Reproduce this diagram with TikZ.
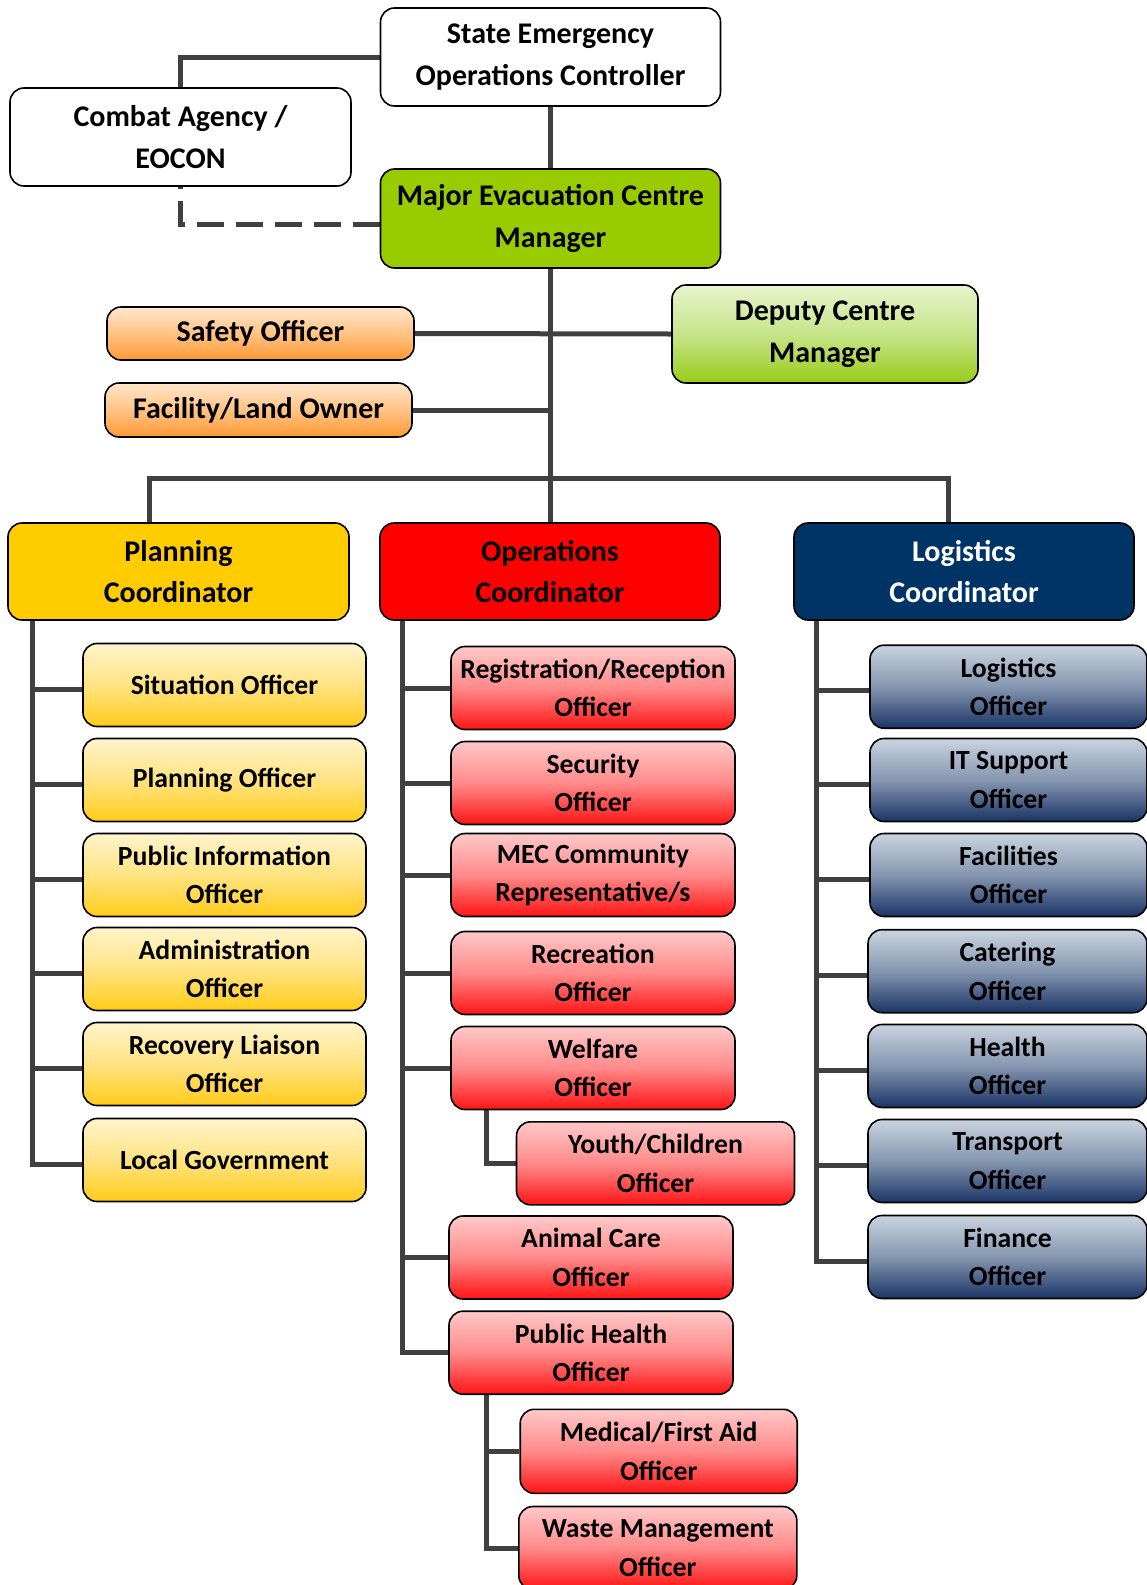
\documentclass[tikz,border=0pt]{standalone}
\usepackage{fontspec}
\setmainfont{Carlito}
\usetikzlibrary{backgrounds}
\definecolor{linegray}{HTML}{404040}
\definecolor{mecgreen}{HTML}{99CC00}
\definecolor{planyellow}{HTML}{FFCC00}
\definecolor{opsred}{HTML}{FF0000}
\definecolor{lognavy}{HTML}{003366}
\definecolor{ytop}{HTML}{FFF4CC}\definecolor{ymid}{HTML}{FFE382}\definecolor{ybot}{HTML}{FFCC1A}
\definecolor{rtop}{HTML}{FFC8C8}\definecolor{rmid}{HTML}{FF8A8A}\definecolor{rbot}{HTML}{FF1414}
\definecolor{btop}{HTML}{CAD4DF}\definecolor{bmid}{HTML}{8596B0}\definecolor{bbot}{HTML}{1A3466}
\definecolor{otop}{HTML}{FFE6CC}\definecolor{omid}{HTML}{FFC385}\definecolor{obot}{HTML}{FF9933}
\definecolor{gtop}{HTML}{E8F5CC}\definecolor{gmid}{HTML}{C6E48A}\definecolor{gbot}{HTML}{99CC1A}
\begin{document}
\begin{tikzpicture}[x=1pt,y=-1pt,
  box/.style={draw=black, line width=1.6pt, rounded corners=14pt, align=center, inner sep=0pt, text=black},
  big/.style={box, font=\bfseries\fontsize{30}{41.5}\selectfont},
  off/.style={box, font=\bfseries\fontsize{27.7}{38.4}\selectfont, minimum height=83pt},
  yel/.style={top color=ytop, bottom color=ybot, middle color=ymid},
  redg/.style={top color=rtop, bottom color=rbot, middle color=rmid},
  blu/.style={top color=btop, bottom color=bbot, middle color=bmid},
  ora/.style={top color=otop, bottom color=obot, middle color=omid},
  grn/.style={top color=gtop, bottom color=gbot, middle color=gmid},
  link/.style={draw=linegray, line width=5pt},
  dlink/.style={link, dash pattern=on 27pt off 12pt}
]
\useasboundingbox (0,0) rectangle (1147,1585);
\clip (0,0) rectangle (1147,1585);

% top level
\node[big, fill=white, minimum width=340pt, minimum height=98pt] (sec) at (550.5,57) {State Emergency\\Operations Controller};
\node[big, fill=white, minimum width=341pt, minimum height=98pt] (combat) at (180.5,137) {Combat Agency /\\EOCON};
\node[big, fill=mecgreen, minimum width=340pt, minimum height=99pt] (mec) at (550.5,218.5) {Major Evacuation Centre\\Manager};
\node[big, ora, minimum width=307pt, minimum height=53pt] (safety) at (260.5,333.5) {Safety Officer};
\node[big, grn, minimum width=306pt, minimum height=98pt] (deputy) at (825,334) {Deputy Centre\\Manager};
\node[big, ora, minimum width=307pt, minimum height=54pt] (facility) at (258.5,410) {Facility/Land Owner};
\node[big, fill=planyellow, minimum width=341pt, minimum height=97pt] (plan) at (178.5,571.5) {Planning\\Coordinator};
\node[big, fill=opsred, minimum width=340pt, minimum height=97pt] (ops) at (550,571.5) {Operations\\Coordinator};
\node[big, fill=lognavy, text=white, minimum width=340pt, minimum height=97pt] (logc) at (964,571.5) {Logistics\\Coordinator};

% planning officers
\node[off, yel, minimum width=283pt] (sit) at (224.5,685) {Situation Officer};
\node[off, yel, minimum width=283pt] (pof) at (224.5,780) {Planning Officer};
\node[off, yel, minimum width=283pt] (pio) at (224.5,875) {Public Information\\Officer};
\node[off, yel, minimum width=283pt] (adm) at (224.5,969) {Administration\\Officer};
\node[off, yel, minimum width=283pt] (rec) at (224.5,1064) {Recovery Liaison\\Officer};
\node[off, yel, minimum width=283pt] (lgov) at (224.5,1160) {Local Government};

% operations officers
\node[off, redg, minimum width=284pt] (reg) at (593,688) {Registration/Reception\\Officer};
\node[off, redg, minimum width=284pt] (secu) at (593,783) {Security\\Officer};
\node[off, redg, minimum width=284pt] (mecc) at (593,875) {MEC Community\\Representative/s};
\node[off, redg, minimum width=284pt] (recr) at (593,973) {Recreation\\Officer};
\node[off, redg, minimum width=284pt] (welf) at (593,1068) {Welfare\\Officer};
\node[off, redg, minimum width=278pt] (youth) at (655.5,1163.3) {Youth/Children\\Officer};
\node[off, redg, minimum width=284pt] (animal) at (591,1257.5) {Animal Care\\Officer};
\node[off, redg, minimum width=284pt] (phealth) at (591,1352.7) {Public Health\\Officer};
\node[off, redg, minimum width=277pt, minimum height=84pt] (medical) at (658.7,1451.3) {Medical/First Aid\\Officer};
\node[off, redg, minimum width=278pt] (waste) at (657.8,1548) {Waste Management\\Officer};

% logistics officers
\node[off, blu, minimum width=277pt] (lo) at (1008.5,686.7) {Logistics\\Officer};
\node[off, blu, minimum width=277pt] (it) at (1008.5,780) {IT Support\\Officer};
\node[off, blu, minimum width=277pt] (fac) at (1008.5,875) {Facilities\\Officer};
\node[off, blu, minimum width=279pt] (cat) at (1007.5,971.2) {Catering\\Officer};
\node[off, blu, minimum width=279pt] (hea) at (1007.5,1066) {Health\\Officer};
\node[off, blu, minimum width=279pt] (tra) at (1007.5,1161) {Transport\\Officer};
\node[off, blu, minimum width=279pt] (fin) at (1007.5,1257) {Finance\\Officer};

% trunk coordinates
\coordinate (pt) at (32,0);
\coordinate (ot) at (402.7,0);
\coordinate (lt) at (816,0);
\coordinate (ws) at (486.5,0);
\coordinate (busL) at (149,478);
\coordinate (busR) at (948,478);
\foreach \n in {sit,pof,pio,adm,rec,lgov,lo,it,fac,cat,hea,tra,fin}
  \coordinate (\n-b) at ([yshift=-4pt]\n.west);
\coordinate (mec-d) at ([yshift=-5.5pt]mec.west);

\begin{pgfonlayer}{background}
% top connectors
\draw[link] (sec.west) -| (combat.north);
\draw[dlink] (mec-d) -| (combat.south);
\draw[link] (sec.south) -- (sec.south |- ops.north);
\draw[link] (safety.east) -- (deputy.west);
\draw[link] (facility.east) -- (facility.east -| sec.south);
\draw[link] (busL |- plan.north) -- (busL) -- (busR) -- (busR |- logc.north);
% planning
\draw[link] (plan.south -| pt) |- (lgov-b);
\foreach \n in {sit,pof,pio,adm,rec}
  \draw[link] (pt |- \n-b) -- (\n-b);
% operations
\draw[link] (ops.south -| ot) |- (phealth.west);
\foreach \n in {reg,secu,mecc,recr,welf,animal}
  \draw[link] (ot |- \n.west) -- (\n.west);
\draw[link] (welf.south -| ws) |- (youth.west);
\draw[link] (phealth.south -| ws) |- (waste.west);
\draw[link] (ws |- medical.west) -- (medical.west);
% logistics
\draw[link] (logc.south -| lt) |- (fin-b);
\foreach \n in {lo,it,fac,cat,hea,tra}
  \draw[link] (lt |- \n-b) -- (\n-b);
\end{pgfonlayer}
\end{tikzpicture}
\end{document}
